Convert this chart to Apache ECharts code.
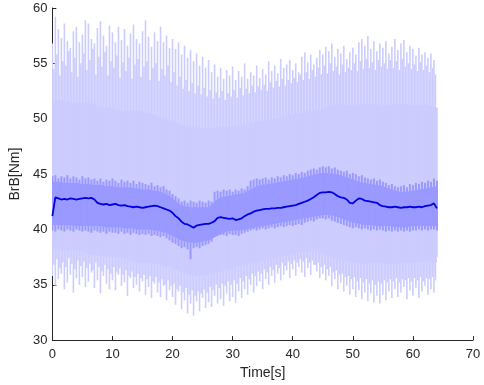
<!DOCTYPE html>
<html>
<head>
<meta charset="utf-8">
<script src="https://cdn.jsdelivr.net/npm/echarts/dist/echarts.min.js"></script>
<style>
  html, body { margin: 0; padding: 0; background: #ffffff; }
  #chart { width: 484px; height: 385px; }
</style>
</head>
<body>
<div id="chart"></div>
<script>
// Braking torque BrB over time: min/max envelope, inner spread band and running mean.
// Stroke series are sampled every 0.5 s (a second envelope layer is offset by 0.25 s),
// the inner solid band every 1 s and the outer solid band every 2 s.

const xTicks = [0, 10, 20, 30, 40, 50, 60, 70];
const yTicks = [30, 35, 40, 45, 50, 55, 60];

// Outer envelope strokes (t = 0, 0.5, ... 64), upper ends
const spikeHi = [
  56.8, 59.2, 58.1, 57.3, 58.6, 57.0, 56.4, 57.9, 58.3, 56.9,
  57.6, 58.9, 58.6, 57.2, 56.8, 58.2, 58.8, 57.5, 56.6, 58.4,
  57.8, 56.9, 58.3, 57.1, 58.1, 56.6, 57.7, 58.5, 57.2, 56.8,
  57.9, 58.9, 57.4, 56.5, 57.8, 57.0, 58.3, 56.9, 57.5, 56.4,
  57.2, 56.3, 56.9, 55.8, 56.6, 55.5, 56.2, 55.2, 55.9, 54.8,
  55.6, 54.6, 55.3, 54.2, 54.9, 53.8, 54.6, 53.6, 54.4, 53.9,
  54.7, 53.5, 54.3, 53.8, 55.0, 53.6, 54.2, 53.9, 54.8, 53.7,
  54.5, 54.0, 55.2, 54.3, 54.8, 54.1, 55.4, 54.6, 54.9, 55.3,
  54.4, 55.0, 54.2, 55.6, 56.0, 55.1, 55.8, 54.9, 55.5, 56.2,
  55.8, 56.5, 56.1, 56.8, 55.6, 56.3, 55.9, 56.6, 55.4, 56.0,
  56.4, 55.8, 56.9, 57.2, 56.6, 57.5, 56.3, 57.0, 56.1, 56.8,
  56.4, 57.0, 55.9, 56.5, 57.2, 56.2, 56.8, 57.1, 56.0, 56.6,
  56.3, 55.7, 56.4, 55.8, 56.0, 55.5, 55.9, 55.3, 51.0
];

// Outer envelope strokes (t = 0, 0.5, ... 64), lower ends
const spikeLo = [
  35.8, 34.9, 35.5, 36.0, 34.6, 35.2, 35.9, 34.3, 35.6, 35.0,
  35.7, 34.8, 35.3, 36.1, 34.7, 35.4, 34.2, 35.8, 35.1, 34.6,
  35.4, 34.5, 35.9, 34.9, 35.2, 34.0, 35.6, 34.7, 35.0, 34.4,
  35.3, 34.1, 34.8, 33.8, 35.1, 34.3, 33.9, 34.9, 33.6, 34.5,
  33.9, 33.2, 34.4, 32.8, 33.6, 32.4, 33.3, 32.2, 33.5, 32.6,
  33.8, 32.9, 33.4, 33.0, 34.0, 33.3, 33.7, 33.1, 34.2, 33.5,
  33.9, 33.4, 34.4, 33.8, 34.6, 34.1, 35.0, 34.3, 34.9, 35.3,
  34.6, 35.5, 35.0, 35.8, 35.2, 36.0, 35.4, 35.9, 36.3, 35.6,
  36.4, 35.8, 36.6, 36.1, 35.7, 36.5, 35.9, 36.8, 36.2, 35.6,
  36.0, 35.4, 35.8, 34.9, 35.5, 34.6, 35.2, 34.4, 34.9, 34.1,
  34.6, 33.9, 34.5, 33.7, 34.3, 33.5, 34.2, 33.4, 34.0, 33.3,
  34.1, 33.6, 34.4, 33.8, 34.6, 33.9, 34.3, 34.8, 33.7, 34.5,
  34.0, 34.7, 33.8, 34.4, 34.9, 34.1, 34.6, 34.3, 37.5
];

// Second envelope layer (t = 0.25, 0.75, ... 63.75), upper ends
const spikeHi2 = [
  54.5, 55.8, 53.9, 55.2, 54.8, 56.1, 54.2, 55.5, 53.8, 55.0,
  55.9, 54.4, 55.3, 56.3, 54.0, 55.6, 54.7, 56.0, 53.9, 55.2,
  54.6, 55.7, 53.7, 55.1, 54.3, 55.5, 53.6, 54.9, 55.4, 53.8,
  54.7, 55.2, 53.5, 54.6, 55.0, 53.4, 54.5, 53.9, 54.8, 53.3,
  54.2, 53.0, 53.8, 52.7, 53.5, 52.5, 53.2, 52.3, 53.0, 52.2,
  52.8, 52.0, 52.6, 51.8, 52.4, 51.9, 52.5, 51.7, 52.3, 52.0,
  52.6, 51.9, 52.8, 52.1, 52.7, 52.3, 53.0, 52.4, 52.9, 52.6,
  53.1, 52.5, 53.3, 52.8, 53.4, 52.9, 53.6, 53.0, 53.5, 53.2,
  53.7, 53.3, 54.0, 53.5, 54.2, 53.6, 54.4, 53.8, 54.6, 54.0,
  54.8, 54.1, 55.0, 54.3, 54.7, 54.0, 54.9, 54.2, 54.6, 54.4,
  55.0, 54.3, 55.2, 54.5, 55.4, 54.6, 55.1, 54.4, 55.3, 54.7,
  55.0, 54.5, 55.3, 54.6, 55.2, 54.4, 55.4, 54.7, 55.0, 54.5,
  54.9, 54.3, 55.1, 54.4, 54.8, 54.2, 54.6, 54.0
];

// Second envelope layer (t = 0.25, 0.75, ... 63.75), lower ends
const spikeLo2 = [
  36.8, 37.3, 36.5, 37.0, 36.6, 37.4, 36.9, 36.4, 37.2, 36.7,
  37.1, 36.5, 36.9, 36.3, 37.0, 36.6, 36.2, 36.8, 36.4, 36.0,
  36.6, 36.1, 36.5, 35.9, 36.3, 35.8, 36.2, 35.7, 36.0, 35.6,
  35.9, 35.5, 35.8, 35.3, 35.7, 35.2, 35.5, 35.0, 35.4, 34.9,
  35.1, 34.6, 34.9, 34.3, 34.7, 34.1, 34.5, 34.0, 34.4, 34.2,
  34.6, 34.3, 34.8, 34.5, 35.0, 34.7, 35.1, 34.9, 35.3, 35.0,
  35.4, 35.1, 35.6, 35.3, 35.8, 35.5, 36.0, 35.8, 36.2, 36.0,
  36.4, 36.1, 36.6, 36.3, 36.8, 36.5, 37.0, 36.7, 37.1, 36.9,
  37.2, 37.0, 37.3, 37.1, 37.4, 37.0, 37.2, 36.8, 37.0, 36.6,
  36.8, 36.4, 36.6, 36.1, 36.3, 35.9, 36.0, 35.7, 35.8, 35.5,
  35.7, 35.3, 35.6, 35.2, 35.5, 35.1, 35.4, 35.0, 35.3, 35.1,
  35.4, 35.2, 35.5, 35.3, 35.6, 35.2, 35.5, 35.4, 35.6, 35.3,
  35.6, 35.4, 35.7, 35.3, 35.6, 35.5, 35.7, 35.4
];

// Solid part of the outer envelope (t = 0, 2, ... 64)
const coreHi = [
  51.6, 51.7, 51.4, 51.5, 51.1, 51.0, 50.7, 50.8, 50.5, 50.2,
  49.8, 49.4, 49.2, 49.1, 49.3, 49.3, 49.5, 49.7, 49.9, 50.1,
  50.4, 50.6, 50.8, 51.1, 51.3, 51.2, 51.4, 51.3, 51.2, 51.4,
  51.2, 51.3, 51.0
];
const coreLo = [
  38.2, 38.0, 38.1, 37.8, 37.6, 37.5, 37.3, 37.0, 37.0, 36.8,
  36.5, 36.0, 35.8, 35.9, 36.2, 36.5, 36.8, 37.0, 37.3, 37.5,
  37.8, 38.0, 38.0, 37.6, 37.2, 37.0, 36.9, 37.0, 36.8, 37.0,
  37.0, 37.1, 37.0
];

// Inner spread strokes (t = 0, 0.5, ... 64)
const midHi = [
  44.8, 44.9, 44.6, 44.8, 44.7, 44.9, 44.6, 44.8, 44.7, 44.5,
  44.8, 44.6, 44.7, 44.5, 44.6, 44.4, 44.6, 44.3, 44.5, 44.4,
  44.6, 44.4, 44.2, 44.5, 44.3, 44.4, 44.2, 44.4, 44.1, 44.3,
  44.2, 44.1, 44.0, 44.2, 43.9, 44.0, 43.8, 43.9, 43.6, 43.5,
  43.2, 43.0, 42.8, 42.5, 42.6, 42.4, 42.6, 42.5, 42.4, 42.6,
  42.5, 42.4, 42.6, 42.5, 43.4, 43.5, 43.4, 43.6, 43.5, 43.6,
  43.4, 43.6, 43.5, 43.7, 43.6, 43.9, 44.4, 44.5, 44.6, 44.5,
  44.6, 44.7, 44.5, 44.7, 44.6, 44.8, 44.7, 44.9, 44.8, 45.0,
  44.9, 45.1, 45.0, 45.2, 45.1, 45.3, 45.4, 45.5, 45.4, 45.6,
  45.7, 45.6, 45.7, 45.5, 45.6, 45.4, 45.3, 45.2, 45.3, 45.0,
  45.1, 45.0, 44.8, 44.9, 44.7, 44.6, 44.5, 44.6, 44.4, 44.5,
  44.3, 44.2, 44.0, 44.1, 43.9, 43.8, 43.9, 44.0, 43.8, 44.1,
  44.0, 44.2, 44.1, 44.3, 44.2, 44.4, 44.3, 44.6, 44.4
];
const midLo = [
  39.9, 39.8, 40.0, 39.9, 39.8, 40.0, 39.9, 39.8, 40.0, 39.9,
  39.8, 39.9, 39.8, 39.7, 39.9, 39.8, 39.7, 39.8, 39.6, 39.8,
  39.7, 39.7, 39.6, 39.8, 39.6, 39.7, 39.5, 39.7, 39.6, 39.5,
  39.6, 39.5, 39.6, 39.4, 39.5, 39.4, 39.3, 39.4, 39.2, 39.0,
  38.8, 38.7, 38.5, 38.3, 38.4, 38.2, 37.3, 38.3, 38.4, 38.3,
  38.5, 38.6, 38.7, 38.9, 39.3, 39.4, 39.5, 39.5, 39.4, 39.6,
  39.5, 39.5, 39.4, 39.6, 39.7, 39.8, 39.9, 40.0, 39.9, 40.0,
  40.1, 40.0, 40.1, 40.2, 40.1, 40.2, 40.3, 40.2, 40.3, 40.4,
  40.3, 40.4, 40.5, 40.4, 40.6, 40.7, 40.8, 40.7, 40.9, 41.0,
  41.0, 40.9, 41.0, 40.8, 40.7, 40.6, 40.5, 40.4, 40.3, 40.2,
  40.1, 40.2, 40.1, 40.0, 40.1, 40.0, 39.9, 40.0, 39.9, 40.0,
  39.9, 39.8, 39.9, 39.8, 39.9, 39.8, 39.9, 39.8, 39.9, 39.8,
  39.9, 39.9, 40.0, 39.9, 40.0, 39.9, 40.0, 40.0, 39.9
];

// Solid part of the inner spread band (t = 0, 1, ... 64)
const midCoreHi = [
  44.3, 44.3, 44.2, 44.2, 44.2, 44.1, 44.1, 44.0, 44.0, 43.9,
  43.9, 43.8, 43.8, 43.8, 43.7, 43.6, 43.6, 43.5, 43.4, 43.2,
  42.8, 42.3, 42.1, 42.0, 42.0, 42.0, 42.0, 42.5, 42.9, 43.0,
  43.1, 43.2, 43.3, 43.6, 43.9, 44.0, 44.1, 44.2, 44.3, 44.4,
  44.5, 44.6, 44.7, 44.9, 45.0, 45.1, 45.1, 45.0, 44.9, 44.7,
  44.5, 44.3, 44.2, 44.1, 44.0, 43.9, 43.7, 43.5, 43.4, 43.4,
  43.5, 43.6, 43.7, 43.8, 43.9
];
const midCoreLo = [
  40.4, 40.4, 40.4, 40.4, 40.3, 40.3, 40.3, 40.3, 40.3, 40.2,
  40.2, 40.2, 40.1, 40.1, 40.0, 40.0, 40.0, 39.9, 39.8, 39.7,
  39.4, 39.1, 38.9, 38.8, 38.8, 38.9, 39.0, 39.3, 39.6, 39.8,
  39.9, 39.9, 40.0, 40.1, 40.2, 40.3, 40.4, 40.5, 40.6, 40.7,
  40.8, 40.9, 41.0, 41.1, 41.2, 41.3, 41.3, 41.2, 41.0, 40.8,
  40.6, 40.5, 40.4, 40.4, 40.3, 40.3, 40.3, 40.2, 40.2, 40.2,
  40.3, 40.3, 40.3, 40.3, 40.3
];

// Running mean (t = 0, 0.5, ... 64)
const meanBrB = [
  41.2, 42.9, 42.8, 42.7, 42.75, 42.7, 42.8, 42.75, 42.7, 42.75,
  42.8, 42.85, 42.8, 42.85, 42.7, 42.4, 42.3, 42.25, 42.3, 42.2,
  42.25, 42.3, 42.2, 42.15, 42.2, 42.1, 42.05, 42.0, 42.05, 42.0,
  41.95, 42.0, 42.05, 42.1, 42.15, 42.1, 42.0, 41.9, 41.8, 41.7,
  41.5, 41.2, 41.0, 40.7, 40.5, 40.45, 40.3, 40.15, 40.35, 40.4,
  40.45, 40.5, 40.5, 40.6, 40.75, 41.05, 41.1, 41.05, 41.0, 40.95,
  41.0, 40.85, 40.9, 41.0, 41.2, 41.35, 41.45, 41.6, 41.7, 41.75,
  41.8, 41.85, 41.85, 41.9, 41.9, 41.95, 41.95, 42.0, 42.05, 42.1,
  42.15, 42.2, 42.3, 42.4, 42.5, 42.6, 42.75, 42.9, 43.1, 43.3,
  43.35, 43.35, 43.4, 43.35, 43.2, 43.0, 42.9, 42.85, 42.7, 42.4,
  42.35, 42.6, 42.8, 42.75, 42.6, 42.55, 42.5, 42.45, 42.4, 42.2,
  42.1, 42.05, 42.0, 42.0, 42.05, 42.0, 41.95, 42.0, 42.0, 42.05,
  42.0, 42.0, 42.05, 42.0, 42.1, 42.15, 42.2, 42.35, 41.9
];

const STROKE_DT = 0.5, LAYER_OFFSET = 0.25, MID_CORE_DT = 1, CORE_DT = 2;

const spikeData = spikeHi.map((hi, i) => [i * STROKE_DT, spikeLo[i], hi]);
const spikeData2 = spikeHi2.map((hi, i) => [LAYER_OFFSET + i * STROKE_DT, spikeLo2[i], hi]);
const midData = midHi.map((hi, i) => [i * STROKE_DT, midLo[i], hi]);
const meanData = meanBrB.map((v, i) => [i * STROKE_DT, v]);
const coreTimes = coreHi.map((_, i) => i * CORE_DT);
const midCoreTimes = midCoreHi.map((_, i) => i * MID_CORE_DT);

const LIGHT = '#ccccff', MEDIUM = '#9999ff', DARK = '#0000e0', INK = '#262626';

// vertical stroke from lo to hi at time t
function strokeRenderer(width, color) {
  return function (params, api) {
    const t = api.value(0);
    const top = api.coord([t, api.value(2)]);
    const bot = api.coord([t, api.value(1)]);
    return {
      type: 'rect',
      shape: { x: top[0] - width / 2, y: top[1], width: width, height: bot[1] - top[1] },
      style: { fill: color }
    };
  };
}

// filled band between lower and upper curves
function bandRenderer(times, lo, hi, color) {
  return function (params, api) {
    const pts = [];
    for (let i = 0; i < times.length; i++) pts.push(api.coord([times[i], hi[i]]));
    for (let i = times.length - 1; i >= 0; i--) pts.push(api.coord([times[i], lo[i]]));
    return { type: 'polygon', shape: { points: pts }, style: { fill: color } };
  };
}

const chart = echarts.init(document.getElementById('chart'), null, { renderer: 'canvas' });

const FONT = 'Liberation Sans, Arial, Helvetica, sans-serif';
const tickText = { color: INK, fontFamily: FONT, fontSize: 13 };
const nameText = { color: INK, fontFamily: FONT, fontSize: 14 };

chart.setOption({
  animation: false,
  backgroundColor: '#ffffff',
  grid: { left: 52, right: 11, top: 8, bottom: 43 },
  xAxis: {
    type: 'value', min: xTicks[0], max: xTicks[xTicks.length - 1], interval: 10,
    name: 'Time[s]', nameLocation: 'middle', nameGap: 21,
    nameTextStyle: nameText,
    axisLine: { show: true, onZero: false, lineStyle: { color: INK, width: 1 } },
    axisTick: { show: true, inside: true, length: 4, lineStyle: { color: INK } },
    axisLabel: Object.assign({ margin: 8 }, tickText),
    splitLine: { show: false }
  },
  yAxis: {
    type: 'value', min: yTicks[0], max: yTicks[yTicks.length - 1], interval: 5,
    name: 'BrB[Nm]', nameLocation: 'middle', nameGap: 22,
    nameTextStyle: nameText,
    axisLine: { show: true, onZero: false, lineStyle: { color: INK, width: 1 } },
    axisTick: { show: true, inside: true, length: 4, lineStyle: { color: INK } },
    axisLabel: Object.assign({ margin: 5 }, tickText),
    splitLine: { show: false }
  },
  series: [
    {
      type: 'custom', name: 'envelope core', clip: true,
      renderItem: bandRenderer(coreTimes, coreLo, coreHi, LIGHT),
      data: [[coreTimes[0], coreLo[0], coreHi[0]]],
      encode: { x: 0, y: [1, 2] }, silent: true, z: 1
    },
    {
      type: 'custom', name: 'envelope', clip: true,
      renderItem: strokeRenderer(1.6, LIGHT),
      data: spikeData, encode: { x: 0, y: [1, 2] }, silent: true, z: 2
    },
    {
      type: 'custom', name: 'envelope offset', clip: true,
      renderItem: strokeRenderer(1.6, LIGHT),
      data: spikeData2, encode: { x: 0, y: [1, 2] }, silent: true, z: 2
    },
    {
      type: 'custom', name: 'spread core', clip: true,
      renderItem: bandRenderer(midCoreTimes, midCoreLo, midCoreHi, MEDIUM),
      data: [[midCoreTimes[0], midCoreLo[0], midCoreHi[0]]],
      encode: { x: 0, y: [1, 2] }, silent: true, z: 3
    },
    {
      type: 'custom', name: 'spread', clip: true,
      renderItem: strokeRenderer(2, MEDIUM),
      data: midData, encode: { x: 0, y: [1, 2] }, silent: true, z: 4
    },
    {
      type: 'line', name: 'mean', data: meanData, showSymbol: false, symbol: 'none',
      lineStyle: { color: DARK, width: 1.8 }, z: 5, silent: true
    }
  ]
});
</script>
</body>
</html>
